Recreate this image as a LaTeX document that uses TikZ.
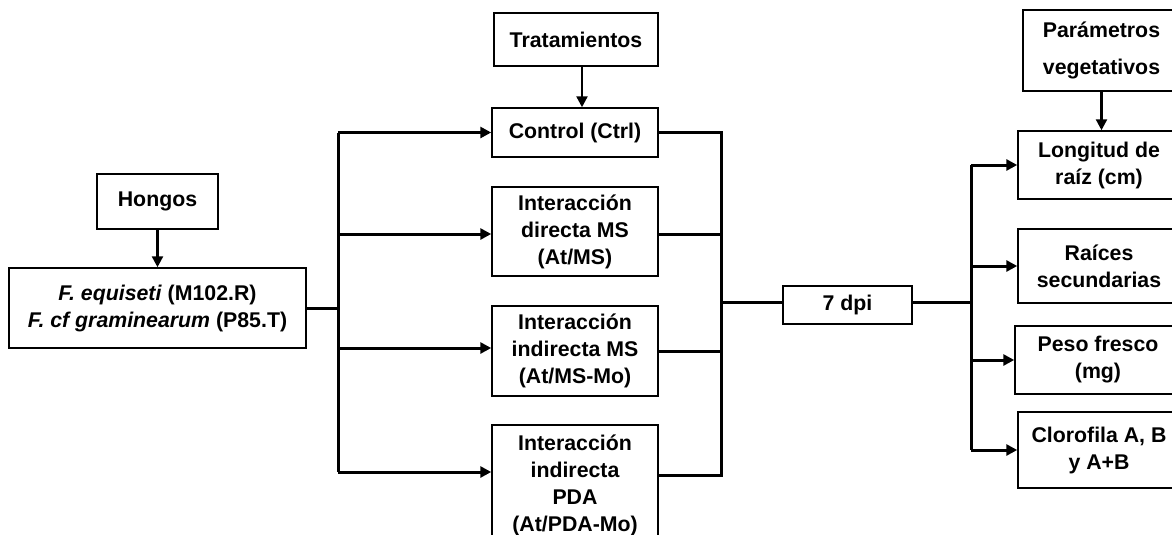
\documentclass[tikz,border=0pt]{standalone}
\usepackage{fontspec}
\setmainfont{Liberation Sans}
\usetikzlibrary{arrows.meta}
\begin{document}
\begin{tikzpicture}[x=1pt,y=-1pt,
  box/.style={draw=black, line width=1.5pt, inner sep=0pt, align=center,
    font=\fontsize{21.3}{27}\selectfont\bfseries},
  conn/.style={line width=3pt},
  arr/.style={line width=3pt, -{Triangle[length=11pt,width=11pt]}},
  varr/.style={line width=2.4pt, -{Triangle[length=11pt,width=11pt]}}]
\useasboundingbox (0,0) rectangle (1172,535);
\fill[white] (0,0) rectangle (1172,535);

\node[box, minimum width=121, minimum height=55] (hongos) at (157.5,201.5) {Hongos};
\node[box, minimum width=297, minimum height=80] (species) at (157.5,308)
  {\textit{F. equiseti} (M102.R)\\\textit{F. cf graminearum} (P85.T)};
\node[box, minimum width=164, minimum height=53] (trat) at (576,39.5) {Tratamientos};
\node[box, minimum width=166, minimum height=49] (ctrl) at (575,132.5) {Control (Ctrl)};
\node[box, minimum width=166, minimum height=89] (dir) at (575,231.5) {Interacción\\directa MS\\(At/MS)};
\node[box, minimum width=166, minimum height=90] (indms) at (575,351) {Interacción\\indirecta MS\\(At/MS-Mo)};
\node[box, minimum width=166, minimum height=120] (pda) at (575,485) {Interacción\\indirecta\\PDA\\(At/PDA-Mo)};
\node[box, minimum width=129, minimum height=38] (dpi) at (847.5,305) {7 dpi};
\node[box, minimum width=157, minimum height=81] (param) at (1101.5,50.5) {Parámetros\\[10pt]vegetativos};
\node[box, minimum width=162, minimum height=68] (long) at (1099,165) {Longitud de\\raíz (cm)};
\node[box, minimum width=162, minimum height=74] (raices) at (1099,266) {Raíces\\secundarias};
\node[box, minimum width=166, minimum height=68] (peso) at (1098,360) {Peso fresco\\(mg)};
\node[box, minimum width=162, minimum height=76] (cloro) at (1099,450) {Clorofila A, B\\y A+B};

\coordinate (lb) at (338,0);
\coordinate (rb) at (721,0);
\coordinate (pb) at (971,0);
\coordinate (dirw) at ([yshift=-2.5pt]dir.west);
\coordinate (dire) at ([yshift=-2.5pt]dir.east);
\coordinate (indw) at ([yshift=3pt]indms.west);
\coordinate (pdaw) at ([yshift=13pt]pda.west);
\coordinate (pdae) at ([yshift=10pt]pda.east);
\coordinate (dpiw) at ([yshift=3pt]dpi.west);
\coordinate (dpie) at ([yshift=3pt]dpi.east);
\coordinate (tratS) at ([xshift=6pt]trat.south);
\coordinate (ctrlN) at ([xshift=7pt]ctrl.north);

% vertical input arrows
\draw[varr] (hongos.south) -- (species.north);
\draw[varr] (tratS) -- (ctrlN);
\draw[varr] (param.south) -- (param.south |- long.north);

% left bus
\draw[conn] (species.east) -- (species.east -| lb);
\draw[conn] (lb |- ctrl.west) -- (lb |- pdaw);
\draw[arr] (lb |- ctrl.west) -- (ctrl.west);
\draw[arr] (lb |- dirw) -- (dirw);
\draw[arr] (lb |- indw) -- (indw);
\draw[arr] (lb |- pdaw) -- (pdaw);

% right bus
\draw[conn] (ctrl.east) -- (ctrl.east -| rb) -- (rb |- pdae) -- (pdae);
\draw[conn] (dire) -- (dire -| rb);
\draw[conn] (indms.east) -- (indms.east -| rb);
\draw[conn] (rb |- dpiw) -- (dpiw);

% output bus
\draw[conn] (dpie) -- (dpie -| pb);
\draw[conn] (pb |- long.west) -- (pb |- cloro.west);
\draw[arr] (pb |- long.west) -- (long.west);
\draw[arr] (pb |- raices.west) -- (raices.west);
\draw[arr] (pb |- peso.west) -- (peso.west);
\draw[arr] (pb |- cloro.west) -- (cloro.west);
\end{tikzpicture}
\end{document}
